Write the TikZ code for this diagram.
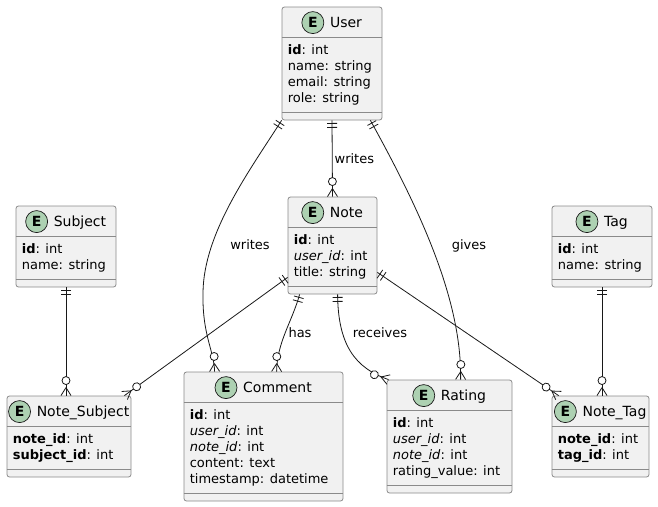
\documentclass[tikz,border=0pt]{standalone}
\usepackage{fontspec}
\setmainfont{DejaVu Sans}
\usepackage{tikz}
\usetikzlibrary{positioning, calc, decorations.markings}
\definecolor{entfill}{HTML}{F1F1F1}
\definecolor{entline}{HTML}{8A8A8A}
\definecolor{relline}{HTML}{181818}
\definecolor{egreen}{HTML}{ADD1B2}

\begin{document}
\begin{tikzpicture}[
	x=1pt, y=-1pt,
	box/.style={rectangle, draw=entline, fill=entfill, line width=0.8pt, rounded corners=2.5pt, inner sep=0},
	sep/.style={draw=entline, line width=0.8pt},
	ttl/.style={anchor=base, inner sep=0, font=\fontsize{14}{16}\selectfont},
	ecirc/.style={circle, draw=relline, fill=egreen, line width=0.7pt, minimum size=22pt, inner sep=0, font=\fontsize{14}{16}\selectfont\bfseries},
	attr/.style={anchor=base west, align=left, inner sep=0, font=\fontsize{13}{16}\selectfont},
	lbl/.style={inner sep=0, font=\fontsize{13}{16}\selectfont},
	rel/.style={draw=relline, line width=0.8pt, postaction={decorate, decoration={markings,
		mark=at position 0 with {\draw[relline, line width=0.8pt] (3,-5) -- (3,5) (7,-5) -- (7,5);},
		mark=at position 0.9995 with {\draw[relline, line width=0.8pt] (-8,0) -- (0,5) (-8,0) -- (0,-5); \draw[relline, fill=white, line width=0.8pt] (-15,0) circle (4pt);}}}}
	]
	\useasboundingbox (0,0) rectangle (658,506);

	% Entities (attribute text sits on the baseline of its last line)
	\node[box, minimum width=100, minimum height=113] (user) at (332,63.5) {};
	\draw[sep] ([yshift=-31]user.north west) -- ([yshift=-31]user.north east);
	\draw[sep] ([yshift=8]user.south west) -- ([yshift=8]user.south east);
	\node[ttl] (user-t) at ([xshift=14, yshift=-21]user.north) {User};
	\node[ecirc] (user-e) at ([xshift=-17, yshift=5]user-t.base west) {E};
	\node[attr] (user-a) at ([xshift=6, yshift=-95.5]user.north west) {\textbf{id}: int\\name: string\\email: string\\role: string};

	\node[box, minimum width=89, minimum height=97] (note) at (332.5,245.5) {};
	\draw[sep] ([yshift=-31]note.north west) -- ([yshift=-31]note.north east);
	\draw[sep] ([yshift=8]note.south west) -- ([yshift=8]note.south east);
	\node[ttl] (note-t) at ([xshift=14, yshift=-21]note.north) {Note};
	\node[ecirc] (note-e) at ([xshift=-17, yshift=5]note-t.base west) {E};
	\node[attr] (note-a) at ([xshift=6, yshift=-79.5]note.north west) {\textbf{id}: int\\\textit{user\_id}: int\\title: string};

	\node[box, minimum width=100, minimum height=81] (subject) at (66,246.5) {};
	\draw[sep] ([yshift=-31]subject.north west) -- ([yshift=-31]subject.north east);
	\draw[sep] ([yshift=8]subject.south west) -- ([yshift=8]subject.south east);
	\node[ttl] (subject-t) at ([xshift=14, yshift=-21]subject.north) {Subject};
	\node[ecirc] (subject-e) at ([xshift=-17, yshift=5]subject-t.base west) {E};
	\node[attr] (subject-a) at ([xshift=6, yshift=-63.5]subject.north west) {\textbf{id}: int\\name: string};

	\node[box, minimum width=100, minimum height=81] (tag) at (602,246.5) {};
	\draw[sep] ([yshift=-31]tag.north west) -- ([yshift=-31]tag.north east);
	\draw[sep] ([yshift=8]tag.south west) -- ([yshift=8]tag.south east);
	\node[ttl] (tag-t) at ([xshift=14, yshift=-21]tag.north) {Tag};
	\node[ecirc] (tag-e) at ([xshift=-17, yshift=5]tag-t.base west) {E};
	\node[attr] (tag-a) at ([xshift=6, yshift=-63.5]tag.north west) {\textbf{id}: int\\name: string};

	\node[box, minimum width=159, minimum height=129] (comment) at (263.5,436.5) {};
	\draw[sep] ([yshift=-31]comment.north west) -- ([yshift=-31]comment.north east);
	\draw[sep] ([yshift=8]comment.south west) -- ([yshift=8]comment.south east);
	\node[ttl] (comment-t) at ([xshift=14, yshift=-21]comment.north) {Comment};
	\node[ecirc] (comment-e) at ([xshift=-17, yshift=5]comment-t.base west) {E};
	\node[attr] (comment-a) at ([xshift=6, yshift=-111.5]comment.north west) {\textbf{id}: int\\\textit{user\_id}: int\\\textit{note\_id}: int\\content: text\\timestamp: datetime};

	\node[box, minimum width=125, minimum height=113] (rating) at (449.5,436.5) {};
	\draw[sep] ([yshift=-31]rating.north west) -- ([yshift=-31]rating.north east);
	\draw[sep] ([yshift=8]rating.south west) -- ([yshift=8]rating.south east);
	\node[ttl] (rating-t) at ([xshift=14, yshift=-21]rating.north) {Rating};
	\node[ecirc] (rating-e) at ([xshift=-17, yshift=5]rating-t.base west) {E};
	\node[attr] (rating-a) at ([xshift=6, yshift=-95.5]rating.north west) {\textbf{id}: int\\\textit{user\_id}: int\\\textit{note\_id}: int\\rating\_value: int};

	\node[box, minimum width=124, minimum height=81] (nsubj) at (69,436.5) {};
	\draw[sep] ([yshift=-31]nsubj.north west) -- ([yshift=-31]nsubj.north east);
	\draw[sep] ([yshift=8]nsubj.south west) -- ([yshift=8]nsubj.south east);
	\node[ttl] (nsubj-t) at ([xshift=14, yshift=-21]nsubj.north) {Note\_Subject};
	\node[ecirc] (nsubj-e) at ([xshift=-17, yshift=5]nsubj-t.base west) {E};
	\node[attr] (nsubj-a) at ([xshift=6, yshift=-63.5]nsubj.north west) {\textbf{note\_id}: int\\\textbf{subject\_id}: int};

	\node[box, minimum width=97, minimum height=81] (ntag) at (600.5,436.5) {};
	\draw[sep] ([yshift=-31]ntag.north west) -- ([yshift=-31]ntag.north east);
	\draw[sep] ([yshift=8]ntag.south west) -- ([yshift=8]ntag.south east);
	\node[ttl] (ntag-t) at ([xshift=14, yshift=-21]ntag.north) {Note\_Tag};
	\node[ecirc] (ntag-e) at ([xshift=-17, yshift=5]ntag-t.base west) {E};
	\node[attr] (ntag-a) at ([xshift=6, yshift=-63.5]ntag.north west) {\textbf{note\_id}: int\\\textbf{tag\_id}: int};

	% Relations
	\draw[rel] (user.south) -- (note.north) node[lbl, midway, right=2pt] (lbl-writes) {writes};
	\draw[rel] (user.south west) .. controls (250,170) and (204,232) .. (203,292) .. controls (202,335) and (214,350) .. ([xshift=31]comment.north west);
	\draw[rel] ([xshift=-12]user.south east) .. controls (420,210) and (462,300) .. ([xshift=74]rating.north west);
	\draw[rel] ([yshift=17]note.south west) -- ([xshift=-7]nsubj.north east);
	\draw[rel] ([yshift=22]note.south east) -- ([xshift=7]ntag.north west);
	\draw[rel] ([xshift=12]note.south west) .. controls (292,322) and (277,342) .. ([xshift=93]comment.north west);
	\draw[rel] ([xshift=50]note.south west) .. controls (338,345) and (355,368) .. ([xshift=2]rating.north west);
	\draw[rel] (subject.south) -- (subject.south |- nsubj.north);
	\draw[rel] (tag.south) -- (tag.south |- ntag.north);

	% Labels
	\node[lbl] (lbl-writes2) at (250,245) {writes};
	\node[lbl] (lbl-gives) at (469,246) {gives};
	\node[lbl] (lbl-has) at (300,333) {has};
	\node[lbl] (lbl-receives) at (380,333) {receives};
\end{tikzpicture}
\end{document}
